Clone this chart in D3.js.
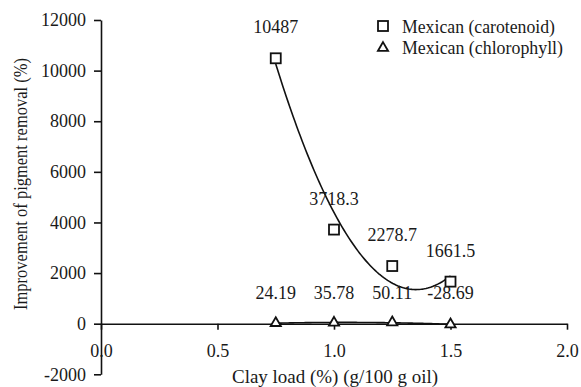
<!DOCTYPE html>
<html><head><meta charset="utf-8">
<script src="https://cdn.jsdelivr.net/npm/d3@7"></script>
<style>body{margin:0;background:#fff}svg{display:block}</style>
</head><body>
<script>
const clayLoad = [0.75, 1.0, 1.25, 1.5];
const carotenoid = [10487, 3718.3, 2278.7, 1661.5];
const chlorophyll = [24.19, 35.78, 50.11, -28.69];
const carotenoidLabels = ["10487", "3718.3", "2278.7", "1661.5"];
const chlorophyllLabels = ["24.19", "35.78", "50.11", "-28.69"];
const seriesNames = ["Mexican (carotenoid)", "Mexican (chlorophyll)"];
const xTicks = [0, 0.5, 1.0, 1.5, 2.0];
const yTicks = [-2000, 0, 2000, 4000, 6000, 8000, 10000, 12000];

const W = 581, H = 387;
const FONT = "Liberation Serif";
const FS = 18;
const INK = "#1a1a1a";
const svg = d3.select("body").append("svg").attr("width", W).attr("height", H)
  .attr("font-family", FONT);
const x = d3.scaleLinear().domain([0, 2]).range([101, 567]);
const y = d3.scaleLinear().domain([-2000, 12000]).range([374.3, 20]);

function txt(sel) {
  return sel.attr("font-family", FONT).attr("font-size", FS).attr("fill", INK);
}

// quadratic least-squares trendline from data
function quadFit(xs, ys) {
  const n = xs.length;
  let S = [0,0,0,0,0], T = [0,0,0];
  for (let i = 0; i < n; i++) {
    for (let k = 0; k < 5; k++) S[k] += Math.pow(xs[i], k);
    for (let k = 0; k < 3; k++) T[k] += ys[i] * Math.pow(xs[i], k);
  }
  const A = [[S[0],S[1],S[2],T[0]],[S[1],S[2],S[3],T[1]],[S[2],S[3],S[4],T[2]]];
  for (let i = 0; i < 3; i++) {
    for (let j = i+1; j < 3; j++) {
      const f = A[j][i]/A[i][i];
      for (let k = i; k < 4; k++) A[j][k] -= f*A[i][k];
    }
  }
  const c = [0,0,0];
  for (let i = 2; i >= 0; i--) {
    let s = A[i][3];
    for (let k = i+1; k < 3; k++) s -= A[i][k]*c[k];
    c[i] = s/A[i][i];
  }
  return t => c[0] + c[1]*t + c[2]*t*t;
}

// X axis at y=0
const xAxis = svg.append("g").attr("transform", `translate(0,${y(0)})`)
  .call(d3.axisBottom(x).tickValues(xTicks).tickFormat(d3.format(".1f")).tickSize(6).tickPadding(15).tickSizeOuter(0));
// Y axis
const yAxis = svg.append("g").attr("transform", `translate(${x(0)},0)`)
  .call(d3.axisLeft(y).tickValues(yTicks).tickFormat(d => d).tickSize(7).tickPadding(8).tickSizeOuter(0));
[xAxis, yAxis].forEach(g => {
  g.attr("font-family", FONT).attr("font-size", FS);
  g.selectAll("path.domain").attr("stroke", "#111").attr("stroke-width", 1.6);
  g.selectAll(".tick line").attr("stroke", "#111").attr("stroke-width", 1.6);
  txt(g.selectAll(".tick text"));
});

// trendlines
function trend(ys) {
  const f = quadFit(clayLoad, ys);
  const xs = d3.range(0, 101).map(i => clayLoad[0] + (clayLoad[3]-clayLoad[0])*i/100);
  svg.append("path").datum(xs)
    .attr("d", d3.line().x(d => x(d)).y(d => y(f(d))))
    .attr("fill", "none").attr("stroke", "#111").attr("stroke-width", 1.6);
}
trend(carotenoid);
trend(chlorophyll);

// markers
const sq = 10;
svg.selectAll("rect.car").data(clayLoad).enter().append("rect")
  .attr("x", (d) => x(d) - sq/2).attr("y", (d,i) => y(carotenoid[i]) - sq/2)
  .attr("width", sq).attr("height", sq)
  .attr("fill", "#fff").attr("stroke", "#111").attr("stroke-width", 1.8);
const tri = d3.symbol().type(d3.symbolTriangle).size(45);
svg.selectAll("path.chl").data(clayLoad).enter().append("path")
  .attr("d", tri).attr("transform", (d,i) => `translate(${x(d)},${y(chlorophyll[i])})`)
  .attr("fill", "#fff").attr("stroke", "#111").attr("stroke-width", 1.8);

// data labels
txt(svg.selectAll("text.cl").data(clayLoad).enter().append("text")
  .attr("x", d => x(d)).attr("y", (d,i) => y(carotenoid[i]) - 31)
  .attr("text-anchor", "middle").attr("dominant-baseline", "central"))
  .text((d,i) => carotenoidLabels[i]);
txt(svg.selectAll("text.hl").data(clayLoad).enter().append("text")
  .attr("x", d => x(d)).attr("y", (d,i) => y(0) - 31)
  .attr("text-anchor", "middle").attr("dominant-baseline", "central"))
  .text((d,i) => chlorophyllLabels[i]);

// legend
const lg = svg.append("g");
lg.append("rect").attr("x", 383 - 5).attr("y", 26 - 5).attr("width", 10).attr("height", 10)
  .attr("fill", "#fff").attr("stroke", "#111").attr("stroke-width", 1.8);
lg.append("path").attr("d", tri).attr("transform", "translate(383,48)")
  .attr("fill", "#fff").attr("stroke", "#111").attr("stroke-width", 1.8);
txt(lg.append("text").attr("x", 402).attr("y", 27).attr("dominant-baseline", "central")
  .attr("textLength", 153).attr("lengthAdjust", "spacingAndGlyphs")).text(seriesNames[0]);
txt(lg.append("text").attr("x", 402).attr("y", 48).attr("dominant-baseline", "central")
  .attr("textLength", 161).attr("lengthAdjust", "spacingAndGlyphs")).text(seriesNames[1]);

// axis titles
txt(svg.append("text").attr("x", 335).attr("y", 383).attr("text-anchor", "middle")
  .attr("textLength", 206).attr("lengthAdjust", "spacingAndGlyphs"))
  .text("Clay load (%) (g/100 g oil)");
txt(svg.append("text").attr("transform", "translate(27,184) rotate(-90)").attr("text-anchor", "middle")
  .attr("textLength", 252).attr("lengthAdjust", "spacingAndGlyphs"))
  .text("Improvement of pigment removal (%)");
</script>
</body></html>
